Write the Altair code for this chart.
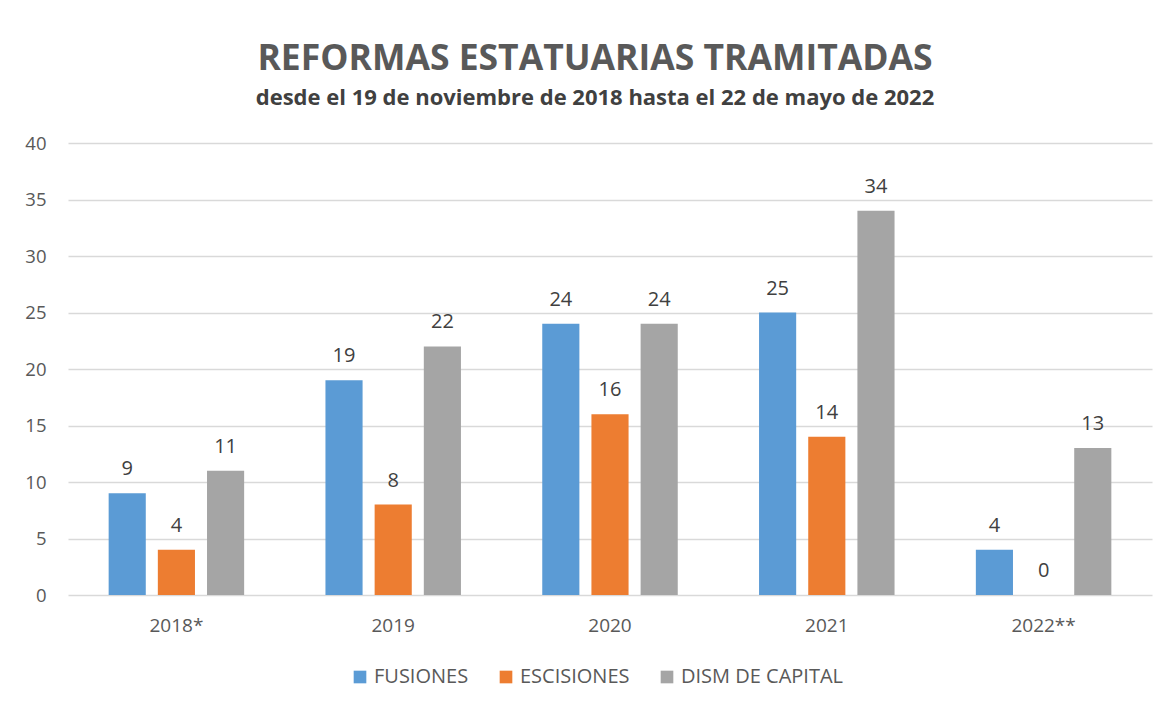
import altair as alt
import pandas as pd

categories = ["2018*", "2019", "2020", "2021", "2022**"]
series = ["FUSIONES", "ESCISIONES", "DISM DE CAPITAL"]
fusiones = [9, 19, 24, 25, 4]
escisiones = [4, 8, 16, 14, 0]
dism_capital = [11, 22, 24, 34, 13]
colors = ["#5B9BD5", "#ED7D31", "#A5A5A5"]
y_ticks = [0, 5, 10, 15, 20, 25, 30, 35, 40]

rows = []
for i, c in enumerate(categories):
    for s, vals in zip(series, [fusiones, escisiones, dism_capital]):
        rows.append({"year": c, "serie": s, "value": vals[i]})
df = pd.DataFrame(rows)

FONT = "Open Sans, sans-serif"

x = alt.X("year:N", sort=categories,
          scale=alt.Scale(paddingInner=0.375, paddingOuter=0.1875),
          axis=alt.Axis(title=None, labelAngle=0, ticks=False, domain=False, grid=False,
                        labelPadding=21, labelFontSize=19, labelColor="#595959",
                        labelFont=FONT))
xo = alt.XOffset("serie:N", sort=series,
                 scale=alt.Scale(paddingInner=0.245, paddingOuter=0))
y = alt.Y("value:Q", scale=alt.Scale(domain=[0, 40]),
          axis=alt.Axis(title=None, values=y_ticks, ticks=False, domain=False,
                        labelPadding=22, labelFontSize=18.5, labelColor="#595959",
                        labelFont=FONT, gridColor="#d9d9d9", gridWidth=1.3))
color = alt.Color("serie:N", sort=series,
                  scale=alt.Scale(domain=series, range=colors),
                  legend=alt.Legend(title=None, orient="none", legendX=282, legendY=524,
                                    direction="horizontal", symbolType="square",
                                    symbolSize=160, symbolStrokeWidth=0,
                                    labelFontSize=20, labelColor="#595959",
                                    labelFont=FONT, columnPadding=27, labelLimit=400))

bars = alt.Chart(df).mark_bar().encode(x=x, xOffset=xo, y=y, color=color)
labels = alt.Chart(df).mark_text(dy=-24, baseline="middle", fontSize=20,
                                 color="#404040", font=FONT).encode(
    x=x, xOffset=xo, y=y, text="value:Q")

chart = alt.layer(bars, labels).properties(
    width=1084, height=452,
    background="white",
    autosize=alt.AutoSizeParams(type="none"),
    padding={"left": 60, "top": 135, "right": 14, "bottom": 103},
    title=alt.TitleParams(
        text="REFORMAS ESTATUARIAS TRAMITADAS",
        subtitle="desde el 19 de noviembre de 2018 hasta el 22 de mayo de 2022",
        fontSize=35.5, font=FONT, fontWeight="bold", color="#595959",
        subtitleFontSize=22, subtitleFont=FONT, subtitleFontWeight="bold",
        subtitleColor="#404040", anchor="middle", offset=25,
        subtitlePadding=11, dx=-15),
).configure_view(strokeWidth=0, stroke="transparent")

chart.save("out.html", embed_options={"renderer": "svg", "actions": False})
